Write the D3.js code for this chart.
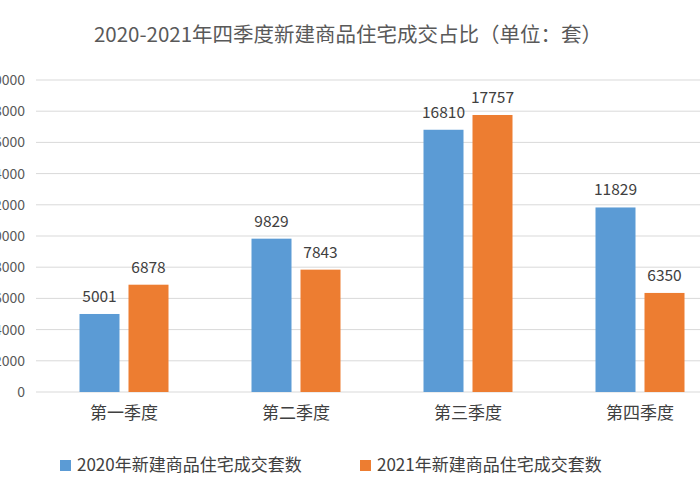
<!DOCTYPE html><html><head><meta charset="utf-8"><script src="https://cdn.jsdelivr.net/npm/d3@7"></script>
<style>body{margin:0;background:#fff}text{font-family:"Noto Sans CJK SC","Microsoft YaHei",sans-serif}</style></head><body><svg id="c" width="700" height="500"></svg><script>
const categories=["第一季度","第二季度","第三季度","第四季度"];
const seriesNames=["2020年新建商品住宅成交套数","2021年新建商品住宅成交套数"];
const values2020=[5001,9829,16810,11829];
const values2021=[6878,7843,17757,6350];
const yTicks=[0,2000,4000,6000,8000,10000,12000,14000,16000,18000,20000];
const colors=["#5B9BD5","#ED7D31"];
const svg=d3.select("#c");
svg.append("rect").attr("width",700).attr("height",500).attr("fill","#fff");
svg.append("text").attr("x",348).attr("y",42).attr("text-anchor","middle").attr("font-size",20.5).attr("fill","#595959").text("2020-2021年四季度新建商品住宅成交占比（单位：套）");
const x=d3.scaleBand().domain(categories).range([38,726]);
const y=d3.scaleLinear().domain([0,20000]).range([392,80]);
yTicks.forEach(t=>{
 svg.append("line").attr("x1",36).attr("x2",700).attr("y1",y(t)).attr("y2",y(t)).attr("stroke","#d9d9d9");
 svg.append("text").attr("x",25).attr("y",y(t)+5).attr("text-anchor","end").attr("font-size",14).attr("fill","#595959").text(t);
});
[values2020,values2021].forEach((vals,s)=>{
 categories.forEach((c,i)=>{
  const cx=x(c)+x.bandwidth()/2-44.5+(s?49:0);
  svg.append("rect").attr("x",cx).attr("width",40).attr("y",y(vals[i])).attr("height",y(0)-y(vals[i])).attr("fill",colors[s]);
  svg.append("text").attr("x",cx+20).attr("y",y(vals[i])-12).attr("text-anchor","middle").attr("font-size",15.5).attr("fill","#404040").text(vals[i]);
 });
});
categories.forEach(c=>svg.append("text").attr("x",x(c)+x.bandwidth()/2).attr("y",419).attr("text-anchor","middle").attr("font-size",17).attr("fill","#404040").text(c));
const lx=[60,360];
seriesNames.forEach((n,s)=>{
 svg.append("rect").attr("x",lx[s]).attr("y",460).attr("width",11).attr("height",11).attr("fill",colors[s]);
 svg.append("text").attr("x",lx[s]+17).attr("y",471).attr("font-size",17).attr("fill","#404040").text(n);
});
</script></body></html>
